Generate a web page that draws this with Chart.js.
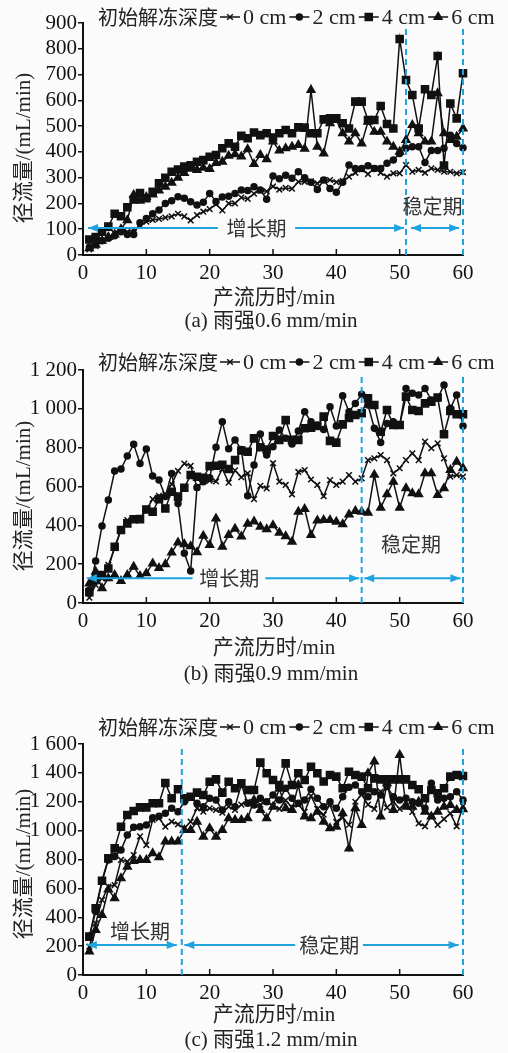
<!DOCTYPE html>
<html>
<head>
<meta charset="utf-8">
<script src="https://cdn.jsdelivr.net/npm/chart.js@4.4.1/dist/chart.umd.min.js"></script>
<style>
  html, body { margin: 0; padding: 0; background: #fbfbfb; }
  body { width: 508px; height: 1053px; position: relative; overflow: hidden; }
  canvas { position: absolute; left: 0; }
</style>
</head>
<body>
<canvas id="chartA" width="508" height="340" style="top:0px"></canvas>
<canvas id="chartB" width="508" height="345" style="top:340px"></canvas>
<canvas id="chartC" width="508" height="368" style="top:685px"></canvas>
<script>
// time axis (min)
const minutes = [
  1, 2, 3, 4, 5, 6, 7, 8, 9, 10,
  11, 12, 13, 14, 15, 16, 17, 18, 19, 20,
  21, 22, 23, 24, 25, 26, 27, 28, 29, 30,
  31, 32, 33, 34, 35, 36, 37, 38, 39, 40,
  41, 42, 43, 44, 45, 46, 47, 48, 49, 50,
  51, 52, 53, 54, 55, 56, 57, 58, 59, 60
];
const depthLabels = ["0 cm", "2 cm", "4 cm", "6 cm"];

// (a) rain 0.6 mm/min
const a0cm = [
  22, 35, 55, 65, 84, 97, 90, 97, 115, 129,
  136, 140, 145, 150, 160, 150, 134, 155, 168, 178,
  197, 173, 200, 200, 223, 218, 238, 250, 247, 266,
  254, 260, 257, 284, 284, 286, 278, 291, 291, 283,
  287, 304, 319, 332, 314, 336, 319, 304, 317, 317,
  349, 323, 330, 319, 336, 330, 323, 323, 317, 321
];
const a2cm = [
  30, 40, 55, 65, 75, 90, 80, 80, 125, 142,
  160, 175, 200, 210, 226, 220, 207, 194, 205, 239,
  208, 225, 228, 239, 252, 250, 265, 252, 216, 306,
  296, 309, 298, 323, 300, 282, 254, 291, 258, 243,
  282, 349, 336, 336, 346, 336, 336, 356, 369, 394,
  414, 420, 420, 359, 405, 405, 414, 465, 433, 416
];
const a4cm = [
  60, 70, 90, 110, 160, 150, 185, 215, 240, 220,
  245, 278, 300, 323, 332, 343, 348, 362, 368, 381,
  388, 414, 433, 420, 462, 453, 475, 465, 472, 456,
  472, 485, 472, 495, 494, 472, 472, 526, 530, 530,
  511, 491, 595, 595, 524, 524, 578, 508, 491, 838,
  679, 621, 491, 643, 621, 772, 347, 588, 530, 705
];
const a6cm = [
  26, 40, 55, 70, 80, 100, 135, 233, 210, 225,
  235, 250, 265, 280, 300, 318, 335, 330, 338, 334,
  357, 362, 385, 391, 382, 410, 353, 388, 371, 440,
  405, 414, 420, 427, 412, 640, 420, 394, 511, 524,
  472, 440, 472, 433, 517, 478, 478, 440, 420, 401,
  446, 504, 472, 440, 440, 627, 472, 446, 459, 491
];

// (b) rain 0.9 mm/min
const b0cm = [
  27, 93, 127, 196, 282, 376, 427, 436, 436, 479,
  535, 552, 560, 612, 680, 718, 706, 595, 630, 630,
  626, 690, 620, 683, 648, 668, 535, 603, 590, 720,
  625, 608, 560, 675, 685, 636, 608, 550, 633, 608,
  625, 659, 625, 642, 736, 745, 762, 736, 668, 694,
  736, 771, 736, 831, 797, 822, 745, 651, 659, 651
];
const b2cm = [
  67, 216, 397, 530, 680, 690, 757, 817, 719, 793,
  654, 633, 548, 667, 512, 256, 165, 595, 625, 645,
  802, 934, 795, 840, 791, 553, 711, 870, 762, 805,
  891, 848, 819, 886, 985, 934, 917, 894, 1011, 912,
  1067, 985, 1028, 1075, 1020, 900, 827, 925, 934, 917,
  1105, 1080, 1071, 1105, 1045, 1054, 1123, 1003, 1071, 912
];
const b4cm = [
  55, 118, 144, 178, 290, 376, 410, 431, 432, 482,
  470, 535, 487, 573, 548, 594, 659, 650, 645, 705,
  707, 712, 690, 736, 785, 779, 848, 802, 791, 860,
  840, 942, 840, 840, 900, 903, 912, 960, 835, 826,
  920, 953, 968, 977, 1054, 1020, 882, 994, 917, 917,
  1063, 994, 989, 1028, 1037, 1058, 869, 989, 972, 972
];
const b6cm = [
  101, 161, 76, 127, 144, 113, 144, 187, 139, 153,
  204, 180, 200, 260, 311, 303, 292, 262, 346, 299,
  435, 290, 350, 383, 343, 408, 420, 393, 380, 400,
  362, 344, 316, 470, 484, 350, 425, 427, 427, 418,
  406, 456, 474, 470, 465, 660, 490, 560, 625, 491,
  591, 565, 560, 668, 668, 556, 591, 685, 728, 694
];

// (c) rain 1.2 mm/min
const c0cm = [
  196, 358, 520, 612, 623, 797, 785, 831, 960, 900,
  1074, 1085, 1027, 1062, 1044, 1016, 1062, 1154, 1131, 1154,
  1143, 1124, 1166, 1143, 1180, 1200, 1180, 1180, 1200, 1170,
  1150, 1210, 1160, 1180, 1130, 1240, 1150, 1110, 1180, 1060,
  1090, 1040, 1200, 1250, 1180, 1150, 1270, 1160, 1200, 1150,
  1200, 1130, 1050, 1030, 1100, 1040, 1080, 1120, 1030, 1170
];
const c2cm = [
  266, 440, 647, 797, 820, 866, 970, 1023, 1027, 1039,
  1090, 1100, 1120, 1155, 1131, 1200, 1235, 1189, 1166, 1224,
  1212, 1143, 1200, 1166, 1320, 1189, 1178, 1224, 1200, 1247,
  1212, 1293, 1224, 1189, 1212, 1286, 1224, 1166, 1200, 1155,
  1235, 1300, 1316, 1270, 1235, 1270, 1247, 1305, 1235, 1212,
  1224, 1200, 1189, 1155, 1328, 1212, 1224, 1235, 1270, 1212
];
const c4cm = [
  266, 462, 653, 808, 877, 1027, 1108, 1136, 1161, 1161,
  1189, 1189, 1330, 1224, 1286, 1224, 1235, 1263, 1247, 1339,
  1355, 1263, 1339, 1293, 1328, 1281, 1281, 1471, 1397, 1351,
  1316, 1466, 1316, 1397, 1351, 1443, 1397, 1340, 1385, 1374,
  1293, 1408, 1385, 1374, 1293, 1362, 1355, 1355, 1355, 1355,
  1355, 1316, 1286, 1224, 1281, 1258, 1293, 1374, 1385, 1378
];
const c6cm = [
  162, 312, 416, 593, 531, 670, 750, 790, 797, 797,
  843, 815, 924, 924, 924, 1004, 1004, 1062, 958, 1016,
  958, 1004, 1085, 1074, 1074, 1085, 1212, 1143, 1085, 1166,
  1290, 1155, 1143, 1316, 1097, 1085, 1131, 1062, 1016, 1027,
  1120, 877, 1155, 1039, 1397, 1478, 1097, 1328, 1143, 1524,
  1166, 1166, 1200, 1131, 1097, 1131, 1166, 1178, 1143, 1148
];

const INK = "#111";
const BLUE = "#1ea3e0";
const SERIF = "21px 'Liberation Serif', 'Noto Sans CJK SC'";
const CJK = "20px 'Noto Sans CJK SC'";
const markerStyles = ["crossRot", "circle", "rect", "triangle"];
const markerSizes = [4, 3, 5, 4.5];

function fmtThousands(v) {
  if (v < 1000) return String(v);
  return Math.floor(v / 1000) + " " + String(v % 1000).padStart(3, "0");
}

function drawArrow(ctx, x1, x2, y, heads) {
  ctx.beginPath();
  ctx.moveTo(x1, y);
  ctx.lineTo(x2, y);
  ctx.stroke();
  const head = (xt, dir) => {
    ctx.beginPath();
    ctx.moveTo(xt, y);
    ctx.lineTo(xt - dir * 10, y - 4);
    ctx.lineTo(xt - dir * 10, y + 4);
    ctx.closePath();
    ctx.fill();
  };
  if (heads.includes("start")) head(x1, -1);
  if (heads.includes("end")) head(x2, 1);
}

const panelDecor = {
  id: "panelDecor",
  afterDatasetsDraw(chart, args, opts) {
    const { ctx, chartArea: area, scales } = chart;
    const x = scales.x, y = scales.y;
    ctx.save();
    // inward x ticks
    ctx.strokeStyle = INK;
    ctx.lineWidth = 1.5;
    x.ticks.forEach((t) => {
      const px = x.getPixelForValue(t.value);
      ctx.beginPath();
      ctx.moveTo(px, area.bottom);
      ctx.lineTo(px, area.bottom - 6);
      ctx.stroke();
    });
    // phase boundaries
    ctx.strokeStyle = BLUE;
    ctx.fillStyle = BLUE;
    ctx.lineWidth = 2;
    ctx.setLineDash([6, 4]);
    opts.phaseLines.forEach((v) => {
      const px = x.getPixelForValue(v);
      ctx.beginPath();
      ctx.moveTo(px, area.bottom);
      ctx.lineTo(px, area.top + 4);
      ctx.stroke();
    });
    ctx.setLineDash([]);
    opts.arrows.forEach((ar) => {
      drawArrow(ctx, x.getPixelForValue(ar.from), x.getPixelForValue(ar.to),
        y.getPixelForValue(ar.y), ar.heads);
    });
    ctx.fillStyle = "#333";
    ctx.font = CJK;
    ctx.textAlign = "center";
    ctx.textBaseline = "middle";
    opts.phaseText.forEach((l) => {
      ctx.fillText(l.text, x.getPixelForValue(l.x), y.getPixelForValue(l.y));
    });
    ctx.restore();
  },
  afterDraw(chart, args, opts) {
    const ctx = chart.ctx;
    ctx.save();
    ctx.fillStyle = "#222";
    ctx.textBaseline = "middle";
    // legend
    let lx = 98;
    const ly = opts.legendY;
    ctx.font = CJK;
    ctx.textAlign = "left";
    ctx.fillText("初始解冻深度", lx, ly);
    lx += ctx.measureText("初始解冻深度").width + 2;
    chart.data.datasets.forEach((ds) => {
      ctx.strokeStyle = INK;
      ctx.lineWidth = 1.5;
      ctx.beginPath();
      ctx.moveTo(lx, ly);
      ctx.lineTo(lx + 20, ly);
      ctx.stroke();
      ctx.fillStyle = INK;
      Chart.helpers.drawPoint(ctx, {
        pointStyle: ds.pointStyle, radius: ds.pointRadius,
        borderWidth: 1.5, rotation: 0
      }, lx + 10, ly);
      lx += 23;
      ctx.fillStyle = "#222";
      ctx.font = "22px 'Liberation Serif'";
      ctx.fillText(ds.label, lx, ly + 1);
      lx += ctx.measureText(ds.label).width + 3;
    });
    // axis titles and caption
    ctx.font = SERIF;
    ctx.textAlign = "center";
    ctx.fillText("产流历时/min", 274, opts.xTitleY);
    ctx.fillText(opts.caption, 271, opts.captionY);
    ctx.translate(24, opts.yTitleY);
    ctx.rotate(-Math.PI / 2);
    ctx.fillText("径流量/(mL/min)", 0, 0);
    ctx.restore();
  }
};

function buildPanel(canvasId, series, yMax, yStep, deco) {
  const datasets = series.map((vals, i) => ({
    label: depthLabels[i],
    data: minutes.map((m, k) => ({ x: m, y: vals[k] })),
    borderColor: INK,
    backgroundColor: INK,
    borderWidth: 1.5,
    pointStyle: markerStyles[i],
    pointRadius: markerSizes[i],
    pointBorderColor: INK,
    pointBackgroundColor: INK,
    pointBorderWidth: 1.5,
    tension: 0,
    clip: 8
  }));
  return new Chart(document.getElementById(canvasId), {
    type: "line",
    data: { datasets: datasets },
    options: {
      responsive: false,
      animation: false,
      events: [],
      layout: { padding: { top: deco.plotTop, right: 45, left: 0, bottom: 0 } },
      plugins: {
        legend: { display: false },
        tooltip: { enabled: false },
        panelDecor: deco
      },
      scales: {
        x: {
          type: "linear",
          min: 0,
          max: 60,
          ticks: { stepSize: 10, autoSkip: false, font: { family: "Liberation Serif", size: 21 }, color: INK, padding: 6, maxRotation: 0 },
          grid: { drawOnChartArea: false, drawTicks: false },
          border: { color: INK, width: 2 },
          afterFit: (s) => { s.height = deco.canvasH - deco.plotBottom; }
        },
        y: {
          min: 0,
          max: yMax,
          ticks: {
            stepSize: yStep,
            autoSkip: false,
            font: { family: "Liberation Serif", size: 21 },
            color: INK,
            padding: 1,
            callback: (v) => fmtThousands(v)
          },
          grid: { drawOnChartArea: false, tickLength: 5, color: INK, lineWidth: 1.5 },
          border: { color: INK, width: 2 },
          afterFit: (s) => { s.width = 83; }
        }
      }
    },
    plugins: [panelDecor]
  });
}

buildPanel("chartA", [a0cm, a2cm, a4cm, a6cm], 900, 100, {
  canvasH: 340, plotTop: 23, plotBottom: 255,
  legendY: 17, xTitleY: 298, captionY: 321, yTitleY: 148,
  caption: "(a) 雨强0.6 mm/min",
  phaseLines: [51, 60],
  arrows: [
    { from: 0.8, to: 21.3, y: 105, heads: "start" },
    { from: 33.5, to: 50.7, y: 105, heads: "end" },
    { from: 51.8, to: 59.4, y: 105, heads: "start end" }
  ],
  phaseText: [
    { text: "增长期", x: 27.4, y: 105 },
    { text: "稳定期", x: 55.2, y: 188 }
  ]
});

buildPanel("chartB", [b0cm, b2cm, b4cm, b6cm], 1200, 200, {
  canvasH: 345, plotTop: 30, plotBottom: 263,
  legendY: 22, xTitleY: 308, captionY: 334, yTitleY: 156,
  caption: "(b) 雨强0.9 mm/min",
  phaseLines: [44, 60],
  arrows: [
    { from: 0.6, to: 17.3, y: 128, heads: "start" },
    { from: 28.8, to: 43.6, y: 128, heads: "end" },
    { from: 44.4, to: 59.6, y: 128, heads: "start end" }
  ],
  phaseText: [
    { text: "增长期", x: 23.1, y: 128 },
    { text: "稳定期", x: 51.8, y: 300 }
  ]
});

buildPanel("chartC", [c0cm, c2cm, c4cm, c6cm], 1600, 200, {
  canvasH: 368, plotTop: 59, plotBottom: 290,
  legendY: 42, xTitleY: 330, captionY: 355, yTitleY: 179,
  caption: "(c) 雨强1.2 mm/min",
  phaseLines: [15.6, 60],
  arrows: [
    { from: 0.6, to: 14.8, y: 208, heads: "start end" },
    { from: 16.0, to: 33.5, y: 208, heads: "start" },
    { from: 44.2, to: 59.3, y: 208, heads: "end" }
  ],
  phaseText: [
    { text: "增长期", x: 9, y: 300 },
    { text: "稳定期", x: 38.9, y: 208 }
  ]
});
</script>
</body>
</html>
